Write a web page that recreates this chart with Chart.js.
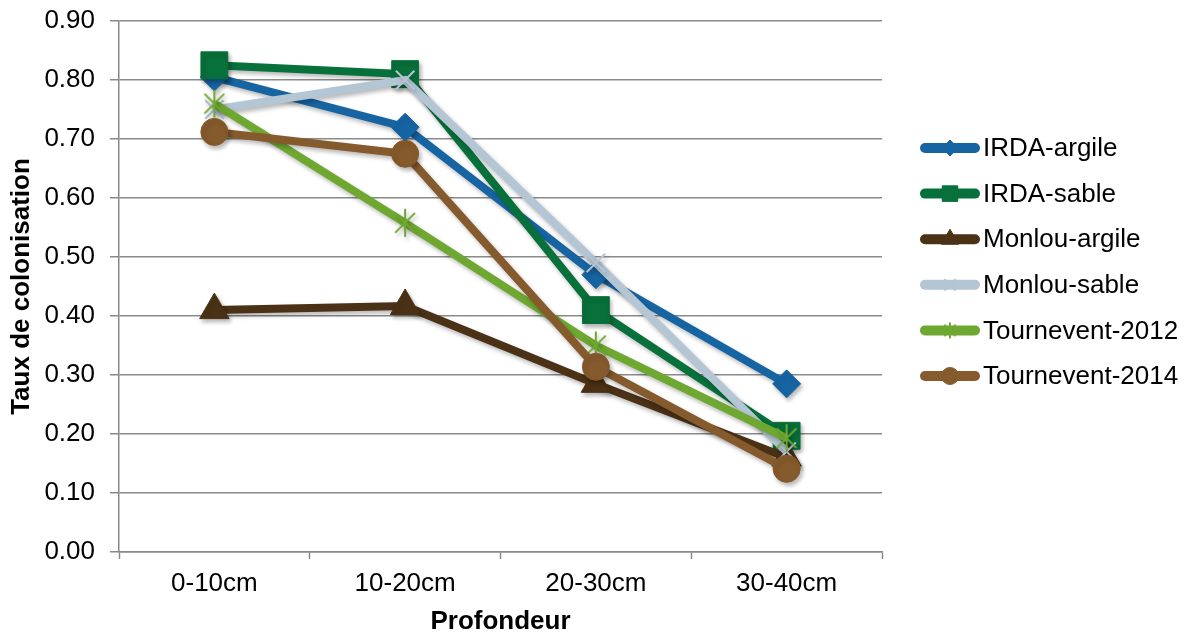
<!DOCTYPE html>
<html>
<head>
<meta charset="utf-8">
<title>Taux de colonisation selon la profondeur</title>
<script src="https://cdn.jsdelivr.net/npm/chart.js@4/dist/chart.umd.min.js"></script>
<style>
  html, body { margin: 0; padding: 0; background: #ffffff; }
  canvas { display: block; }
</style>
</head>
<body>
<canvas id="chart" width="1191" height="635"></canvas>
<script>
// Depth classes on the x axis
const profondeurs = ['0-10cm', '10-20cm', '20-30cm', '30-40cm'];

// Colonisation rate per site / soil
const irdaArgile      = [0.805, 0.72, 0.47, 0.285];
const irdaSable       = [0.825, 0.81, 0.41, 0.197];
const monlouArgile    = [0.41, 0.417, 0.285, 0.16];
const monlouSable     = [0.75, 0.80, 0.49, 0.17];
const tournevent2012  = [0.76, 0.558, 0.35, 0.193];
const tournevent2014  = [0.712, 0.675, 0.314, 0.141];

const seriesNames = ['IRDA-argile', 'IRDA-sable', 'Monlou-argile', 'Monlou-sable', 'Tournevent-2012', 'Tournevent-2014'];
const seriesValues = [irdaArgile, irdaSable, monlouArgile, monlouSable, tournevent2012, tournevent2014];

// Asterisk marker: an X crossed by a vertical stroke
function asterisk(size, color, width) {
  const c = document.createElement('canvas');
  c.width = size; c.height = size;
  const g = c.getContext('2d');
  const m = size / 2, r = size / 2 - 1;
  const d = r * Math.SQRT1_2;
  g.strokeStyle = color;
  g.lineWidth = width;
  g.beginPath();
  g.moveTo(m - d, m - d); g.lineTo(m + d, m + d);
  g.moveTo(m + d, m - d); g.lineTo(m - d, m + d);
  g.moveTo(m, m - r); g.lineTo(m, m + r);
  g.stroke();
  return c;
}

// Line colour and marker per series
const seriesStyle = [
  { color: '#1764A3', point: 'rectRot',  radius: 14,   legendRadius: 8,   bw: 1 },
  { color: '#08703A', point: 'rect',     radius: 19,   legendRadius: 11,  bw: 1 },
  { color: '#4B3216', point: 'triangle', radius: 17,   legendRadius: 10,  bw: 1 },
  { color: '#B4C5D4', point: 'crossRot', radius: 13,   legendRadius: 8,   bw: 2 },
  { color: '#6EA830', point: asterisk(30, '#6EA830', 2), legendPoint: asterisk(18, '#6EA830', 2), radius: 15, legendRadius: 9, bw: 2 },
  { color: '#855A2C', point: 'circle',   radius: 13.5, legendRadius: 8.5, bw: 1 }
];

const FONT = "'Liberation Sans', Arial, sans-serif";

const datasets = seriesNames.map((name, i) => ({
  label: name,
  data: seriesValues[i],
  borderColor: seriesStyle[i].color,
  backgroundColor: seriesStyle[i].color,
  borderWidth: 8,
  pointStyle: seriesStyle[i].point,
  pointRadius: seriesStyle[i].radius,
  pointHoverRadius: seriesStyle[i].radius,
  pointBackgroundColor: seriesStyle[i].color,
  pointBorderColor: seriesStyle[i].color,
  pointBorderWidth: seriesStyle[i].bw,
  tension: 0,
  fill: false,
  // later series are painted on top
  order: seriesNames.length - i
}));

// Soft drop shadow under lines and markers
const shadowPlugin = {
  id: 'shadow',
  beforeDatasetDraw(chart) {
    const ctx = chart.ctx;
    ctx.save();
    ctx.shadowColor = 'rgba(0,0,0,0.28)';
    ctx.shadowBlur = 4;
    ctx.shadowOffsetX = 2;
    ctx.shadowOffsetY = 3;
  },
  afterDatasetDraw(chart) {
    chart.ctx.restore();
  }
};

// Legend on the right: line sample with the marker in its middle
const sideLegend = {
  id: 'sideLegend',
  afterDraw(chart) {
    const ctx = chart.ctx;
    const x0 = 925, x1 = 975, textX = 983;
    const yStart = 148, step = 45.6;
    ctx.save();
    seriesNames.forEach((name, i) => {
      const st = seriesStyle[i];
      const y = yStart + i * step;
      ctx.lineCap = 'round';
      ctx.lineWidth = 10;
      ctx.strokeStyle = st.color;
      ctx.beginPath();
      ctx.moveTo(x0, y);
      ctx.lineTo(x1, y);
      ctx.stroke();
      ctx.lineCap = 'butt';
      ctx.fillStyle = st.color;
      ctx.strokeStyle = st.color;
      ctx.lineWidth = st.bw;
      Chart.helpers.drawPoint(ctx, {
        pointStyle: st.legendPoint || st.point,
        radius: st.legendRadius,
        rotation: 0,
        borderWidth: st.bw
      }, (x0 + x1) / 2, y);
      ctx.fillStyle = '#000000';
      ctx.font = '26px ' + FONT;
      ctx.textAlign = 'left';
      ctx.textBaseline = 'middle';
      ctx.fillText(name, textX, y + 1);
    });
    ctx.restore();
  }
};

new Chart(document.getElementById('chart'), {
  type: 'line',
  data: { labels: profondeurs, datasets },
  options: {
    responsive: false,
    devicePixelRatio: 1,
    animation: false,
    layout: { padding: { left: 0, top: 21, right: 309, bottom: 0 } },
    plugins: {
      legend: { display: false },
      tooltip: { enabled: false }
    },
    scales: {
      x: {
        type: 'category',
        offset: true,
        grid: {
          offset: true,
          drawOnChartArea: false,
          drawTicks: true,
          tickLength: 7,
          tickWidth: 1.5,
          tickColor: '#888888'
        },
        border: { display: true, color: '#888888', width: 1.5 },
        ticks: {
          color: '#000000',
          font: { family: FONT, size: 26 },
          padding: 9,
          maxRotation: 0
        },
        title: {
          display: true,
          text: 'Profondeur',
          color: '#000000',
          font: { family: FONT, size: 26, weight: 'bold', lineHeight: 1 },
          padding: { top: 0, bottom: 0 }
        },
        afterFit(scale) {
          scale.height = 83;
          scale.paddingLeft = 0;
          scale.paddingRight = 0;
        }
      },
      y: {
        min: 0,
        max: 0.9,
        grid: {
          color: '#8a8a8a',
          lineWidth: 1.5,
          drawTicks: true,
          tickLength: 9,
          tickColor: '#888888'
        },
        border: { display: true, color: '#888888', width: 1.5 },
        ticks: {
          stepSize: 0.1,
          color: '#000000',
          font: { family: FONT, size: 26 },
          padding: 15,
          callback: v => v.toFixed(2)
        },
        title: {
          display: true,
          text: 'Taux de colonisation',
          color: '#000000',
          font: { family: FONT, size: 26, weight: 'bold', lineHeight: 1 },
          padding: { top: 9, bottom: 0 }
        },
        afterFit(scale) {
          scale.width = 119;
          scale.paddingTop = 0;
          scale.paddingBottom = 0;
        }
      }
    }
  },
  plugins: [shadowPlugin, sideLegend]
});
</script>
</body>
</html>
